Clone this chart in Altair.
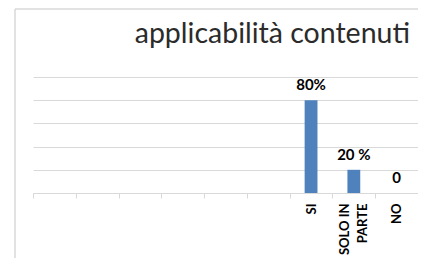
import altair as alt
import pandas as pd

categories = ["SI", "SOLO IN PARTE", "NO"]
values = [80, 20, 0]
value_labels = ["80%", "20 %", "0"]
empty_slots = ["e1", "e2", "e3", "e4", "e5", "e6"]
y_ticks = [0, 20, 40, 60, 80, 100]
title_text = "applicabilità contenuti"

df = pd.DataFrame({"cat": categories, "val": values, "lab": value_labels})
domain = empty_slots + categories

label_expr = ("datum.label == 'SOLO IN PARTE' ? ['SOLO IN', 'PARTE'] : "
              "(indexof(['SI','NO'], datum.label) >= 0 ? datum.label : '')")

GRID = "#d9d9d9"

x = alt.X(
    "cat:N",
    sort=domain,
    scale=alt.Scale(domain=domain, paddingInner=0, paddingOuter=0),
    axis=alt.Axis(
        title=None, labelAngle=-90, labelExpr=label_expr, labelFont="Lato",
        labelFontWeight="bold", labelFontSize=13, labelColor="#000000",
        tickBand="extent", tickColor=GRID, tickSize=5, domainColor=GRID,
        labelPadding=5, labelLineHeight=18, grid=False,
        labelOffset=alt.condition("datum.label == 'SOLO IN PARTE'", alt.value(-9), alt.value(0)),
    ),
)
y = alt.Y(
    "val:Q",
    scale=alt.Scale(domain=[0, 100]),
    axis=alt.Axis(values=y_ticks, labels=False, ticks=False, domain=False,
                  title=None, grid=True, gridColor=GRID),
)

bars = alt.Chart(df).mark_bar(color="#4F81BD", width=alt.RelativeBandSize(0.3)).encode(x=x, y=y)
texts = alt.Chart(df).mark_text(
    font="Lato", fontWeight="bold", fontSize=15, dy=-15, baseline="middle", color="#000000"
).encode(x=x, y=y, text="lab:N")

frame_df = pd.DataFrame({"k": [0]})
vframe = alt.Chart(frame_df).mark_rule(color=GRID, strokeWidth=1.5).encode(
    x=alt.value(-18), y=alt.value(-68), y2=alt.value(200))
hframe = alt.Chart(frame_df).mark_rule(color=GRID, strokeWidth=1.5).encode(
    x=alt.value(-18), x2=alt.value(400), y=alt.value(-68))

title_df = pd.DataFrame({"t": [title_text]})
title = alt.Chart(title_df).mark_text(
    font="Lato", fontSize=28.5, color="#2b2b2b", align="right", baseline="alphabetic"
).encode(x=alt.value(377), y=alt.value(-34), text="t:N")

chart = alt.layer(vframe, hframe, bars, texts, title).properties(
    width=385, height=116,
    autosize="none",
    padding={"left": 25, "top": 69, "right": 0, "bottom": 65},
).configure_view(stroke=None)

chart.save("out.html", embed_options={"renderer": "svg", "actions": False})
